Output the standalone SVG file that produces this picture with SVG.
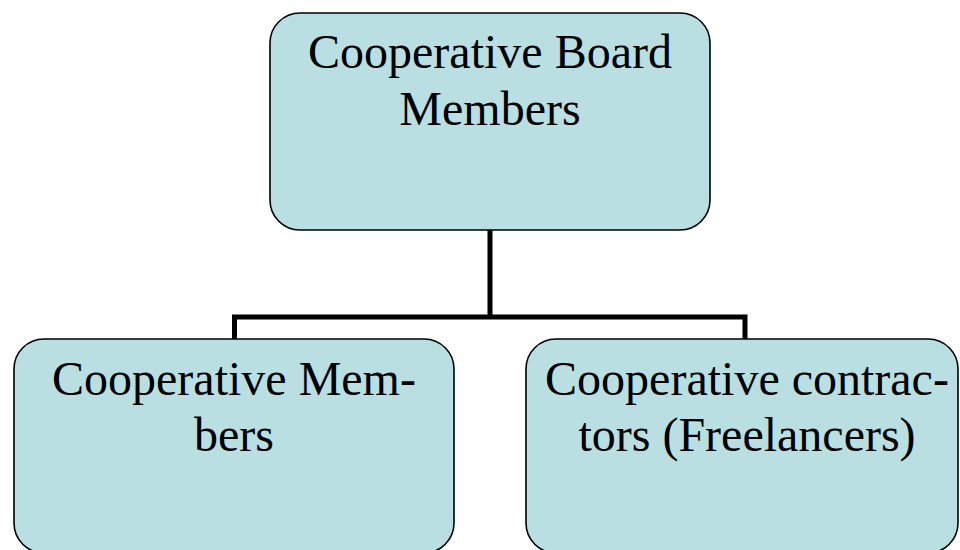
<svg xmlns="http://www.w3.org/2000/svg" width="960" height="550" viewBox="0 0 960 550">
<style>
.box{fill:#B9DFE3;stroke:#000;stroke-width:1.6}
.lbl{font-family:"Liberation Serif","Times New Roman",serif;font-size:48px;fill:#000;text-anchor:middle}
.conn{fill:none;stroke:#000;stroke-width:5;stroke-linejoin:miter}
</style>
<rect width="960" height="550" fill="#fff"/>
<g id="connectors">
<path class="conn" d="M490 230 V317 M234.5 339 V317 H745 V339"/>
</g>
<g id="board">
<rect class="box" x="270" y="13" width="440" height="217" rx="30" ry="30"/>
<text class="lbl" x="490" y="68">Cooperative Board</text>
<text class="lbl" x="490" y="125">Members</text>
</g>
<g id="members">
<rect class="box" x="14" y="339" width="440" height="214" rx="30" ry="30"/>
<text class="lbl" x="234" y="395">Cooperative Mem-</text>
<text class="lbl" x="234" y="451">bers</text>
</g>
<g id="contractors">
<rect class="box" x="526" y="339" width="432" height="214" rx="30" ry="30"/>
<text class="lbl" x="747" y="395">Cooperative contrac-</text>
<text class="lbl" x="747" y="451">tors (Freelancers)</text>
</g>
</svg>
